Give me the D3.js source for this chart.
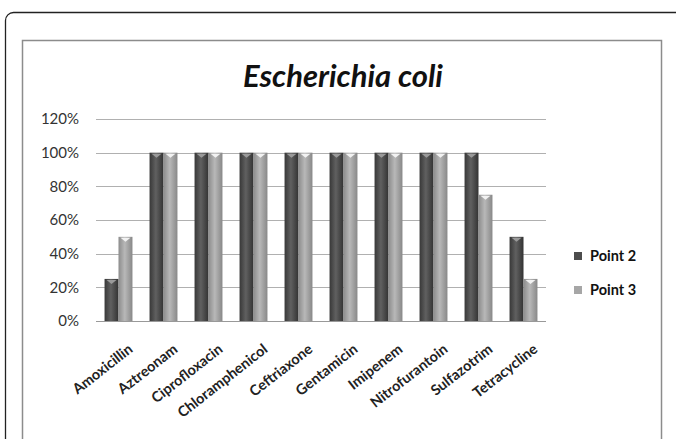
<!DOCTYPE html>
<html><head><meta charset="utf-8">
<script src="https://cdn.jsdelivr.net/npm/d3@7"></script>
<style>html,body{margin:0;padding:0;background:#fff;}svg{display:block;}</style>
</head><body>
<script>
const categories = ["Amoxicillin","Aztreonam","Ciprofloxacin","Chloramphenicol","Ceftriaxone","Gentamicin","Imipenem","Nitrofurantoin","Sulfazotrim","Tetracycline"];
const seriesNames = ["Point 2","Point 3"];
const point2 = [25,100,100,100,100,100,100,100,100,50];
const point3 = [50,100,100,100,100,100,100,100,75,25];
const yTicks = [0,20,40,60,80,100,120];
const title = "Escherichia coli";

const W = 676, H = 439;
const svg = d3.select("body").append("svg").attr("width", W).attr("height", H);
const defs = svg.append("defs");
function grad(id, stops){
  const g = defs.append("linearGradient").attr("id", id).attr("x1","0%").attr("x2","100%").attr("y1","0%").attr("y2","0%");
  stops.forEach(s => g.append("stop").attr("offset", s[0]).attr("stop-color", s[1]));
}
grad("g0", [["0%","#383838"],["45%","#606060"],["100%","#333"]]);
grad("g1", [["0%","#8c8c8c"],["45%","#b8b8b8"],["100%","#888"]]);
const fills = ["url(#g0)","url(#g1)"];
const legendFills = ["#4d4d4d","#a6a6a6"];
const font = "Lato, 'Open Sans', sans-serif";

// outer rounded border
svg.append("rect").attr("x",5.5).attr("y",12.5).attr("width",700).attr("height",460).attr("rx",8)
  .attr("fill","#fff").attr("stroke","#222").attr("stroke-width",1.3);
// chart frame
svg.append("rect").attr("x",22.5).attr("y",40.5).attr("width",639).attr("height",420)
  .attr("fill","#fff").attr("stroke","#8c8c8c").attr("stroke-width",1.5);

svg.append("text").attr("x",343).attr("y",87).attr("text-anchor","middle")
  .attr("font-family",font).attr("font-weight","bold").attr("font-style","italic")
  .attr("font-size",31).attr("fill","#111").text(title);

const x0 = 96, x1 = 546, yTop = 119, yBot = 321;
const x = d3.scaleBand().domain(categories).range([x0, x1]).paddingInner(0.38).paddingOuter(0.19);
const xs = d3.scaleBand().domain(seriesNames).range([0, x.bandwidth()]);
const y = d3.scaleLinear().domain([0,120]).range([yBot, yTop]);

const grid = svg.append("g");
yTicks.forEach(t => {
  grid.append("line").attr("x1",x0).attr("x2",x1).attr("y1",Math.round(y(t))+0.5).attr("y2",Math.round(y(t))+0.5)
    .attr("stroke", t===0 ? "#999" : "#b0b0b0").attr("stroke-width",1);
});
const yAxis = d3.axisLeft(y).tickValues(yTicks).tickFormat(d => d + "%").tickSize(0).tickPadding(0);
const ya = svg.append("g").attr("transform",`translate(79,0)`).call(yAxis);
ya.select(".domain").remove();
ya.selectAll("text").attr("font-family",font).attr("font-size",15).attr("fill","#333");

const data = [point2, point3];
data.forEach((vals, si) => {
  const g = svg.append("g");
  vals.forEach((v, i) => {
    const bx = x(categories[i]) + xs(seriesNames[si]);
    const bw = xs.bandwidth();
    g.append("rect").attr("x", bx).attr("y", y(v)).attr("width", bw).attr("height", y(0) - y(v))
      .attr("fill", fills[si]);
    g.append("path").attr("d", `M${bx+2},${y(v)+1} L${bx+bw-2},${y(v)+1} L${bx+bw/2},${y(v)+5} Z`)
      .attr("fill", si===0 ? "#9a9a9a" : "#f2f2f2");
  });
});

const xa = svg.append("g").attr("transform",`translate(0,${yBot})`)
  .call(d3.axisBottom(x).tickSize(0).tickPadding(0));
xa.select(".domain").remove();
xa.selectAll("text").attr("text-anchor","end")
  .attr("font-family",font).attr("font-weight","bold").attr("font-size",14.5).attr("fill","#222")
  .attr("transform","translate(12,26) rotate(-38)").attr("dy","0.35em");

const lg = svg.append("g");
seriesNames.forEach((s, i) => {
  const ly = 256 + i*34;
  lg.append("rect").attr("x",574).attr("y",ly-4).attr("width",8).attr("height",8).attr("fill",legendFills[i]);
  lg.append("text").attr("x",590).attr("y",ly+5).attr("font-family",font)
    .attr("font-weight","bold").attr("font-size",14.5).attr("fill","#111").text(s);
});
</script>
</body></html>
